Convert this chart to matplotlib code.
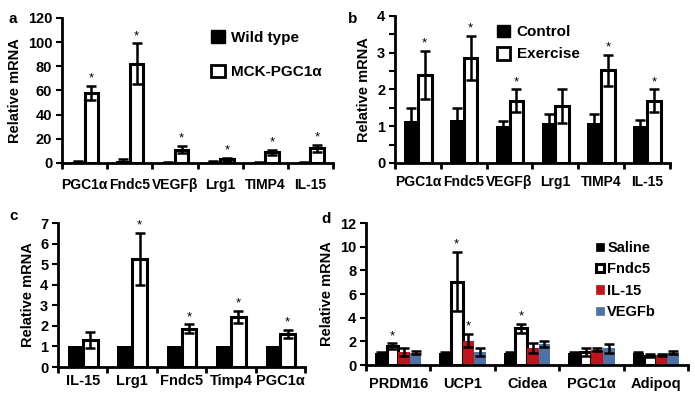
import numpy as np
import matplotlib
matplotlib.use('Agg')
from matplotlib import pyplot as plt
from matplotlib.patches import Patch

plt.rcParams['font.family'] = ['Liberation Sans', 'DejaVu Sans']
plt.rcParams['font.weight'] = 'bold'

RED = '#c0141c'
BLUE = '#4e72a6'

# panel a
a_genes = ['PGC1α', 'Fndc5', 'VEGFβ', 'Lrg1', 'TIMP4', 'IL-15']
a_wt = [1.0, 2.0, 0.8, 1.0, 0.8, 0.6]
a_wt_err = [0.4, 1.2, 0.4, 0.4, 0.4, 0.3]
a_mck = [58, 82, 11, 3, 9, 12]
a_mck_err = [6, 17, 3, 1.2, 2, 3]
a_sig = [True, True, True, True, True, True]

# panel b
b_genes = ['PGC1α', 'Fndc5', 'VEGFβ', 'Lrg1', 'TIMP4', 'IL-15']
b_ctrl = [1.15, 1.17, 1.02, 1.1, 1.1, 1.02]
b_ctrl_err = [0.36, 0.34, 0.13, 0.23, 0.23, 0.15]
b_ex = [2.4, 2.85, 1.7, 1.55, 2.52, 1.7]
b_ex_err = [0.65, 0.6, 0.3, 0.47, 0.42, 0.3]
b_sig = [True, True, True, False, True, True]

# panel c
c_genes = ['IL-15', 'Lrg1', 'Fndc5', 'Timp4', 'PGC1α']
c_ctrl = [1, 1, 1, 1, 1]
c_treat = [1.32, 5.25, 1.85, 2.43, 1.6]
c_treat_err = [0.4, 1.25, 0.22, 0.28, 0.2]
c_sig = [False, True, True, True, True]

# panel d
d_genes = ['PRDM16', 'UCP1', 'Cidea', 'PGC1α', 'Adipoq']
d_series = ['Saline', 'Fndc5', 'IL-15', 'VEGFb']
d_vals = [
    [1.0, 1.0, 1.0, 1.0, 1.0],
    [1.6, 7.05, 3.1, 1.1, 0.8],
    [1.1, 2.05, 1.45, 1.3, 0.85],
    [1.05, 1.1, 1.8, 1.4, 1.05],
]
d_errs = [
    [0.12, 0.1, 0.1, 0.12, 0.12],
    [0.22, 2.5, 0.4, 0.35, 0.1],
    [0.3, 0.55, 0.45, 0.15, 0.08],
    [0.15, 0.3, 0.25, 0.35, 0.15],
]
d_sig = [
    [False] * 5,
    [True, True, True, False, False],
    [False, True, False, False, False],
    [False] * 5,
]


def style_axis(ax, n, ymax, yticks, labels, label_pad, xsize, minor_y=None):
    for s in ['top', 'right']:
        ax.spines[s].set_visible(False)
    for s in ['left', 'bottom']:
        ax.spines[s].set_linewidth(2)
    ax.set_xlim(0, n)
    ax.set_ylim(0, ymax)
    ax.set_xticks(np.arange(n + 1))
    ax.set_xticklabels([])
    ax.set_xticks(np.arange(n) + 0.5, labels, minor=True)
    ax.tick_params(axis='x', which='major', length=4, width=2, direction='out')
    ax.tick_params(axis='x', which='minor', length=0, pad=label_pad,
                   labelsize=xsize)
    ax.set_yticks(yticks)
    ax.tick_params(axis='y', which='major', length=4, width=1.5,
                   labelsize=10.5, pad=3)
    if minor_y is not None:
        ax.set_yticks(minor_y, minor=True)
        ax.tick_params(axis='y', which='minor', length=4, width=1.5)
    for lab in ax.get_xticklabels(minor=True) + ax.get_yticklabels():
        lab.set_fontweight('bold')
    ax.set_ylabel('Relative mRNA', fontsize=10.5, fontweight='bold')


def stars(ax, x, tops, flags):
    for xi, t, f in zip(x, tops, flags):
        if f:
            ax.annotate('*', (xi, t), xytext=(0, 1), textcoords='offset points',
                        ha='center', va='bottom', fontsize=9.5,
                        fontweight='normal')


ekw = dict(ecolor='black', elinewidth=1.8, capsize=3.5, capthick=1.8)

fig = plt.figure(figsize=(6.95, 3.99), dpi=100)

# ---- a
ax = fig.add_axes([0.0892, 0.5915, 0.390, 0.3634])
x = np.arange(len(a_genes)) + 0.5
w = 0.3
ax.bar(x - w / 2, a_wt, w, color='black', yerr=a_wt_err, error_kw=ekw)
ax.bar(x + w / 2, a_mck, w, color='white', edgecolor='black', linewidth=2.2,
       yerr=a_mck_err, error_kw=ekw)
stars(ax, x + w / 2, np.array(a_mck) + np.array(a_mck_err), a_sig)
style_axis(ax, 6, 120, np.arange(0, 121, 20), a_genes, 11, 10)
ax.legend(handles=[Patch(facecolor='black', edgecolor='black'),
                   Patch(facecolor='white', edgecolor='black', linewidth=2)],
          labels=['Wild type', 'MCK-PGC1α'], loc='upper left',
          bbox_to_anchor=(0.5, 1.01), frameon=False, handlelength=0.9,
          handleheight=0.9, handletextpad=0.4, labelspacing=1.3,
          prop=dict(weight='bold', size=11))
fig.text(0.012, 0.97, 'a', fontsize=11, fontweight='bold', va='top')

# ---- b
ax = fig.add_axes([0.5683, 0.5915, 0.3957, 0.3684])
x = np.arange(len(b_genes)) + 0.5
ax.bar(x - w / 2, b_ctrl, w, color='black', yerr=b_ctrl_err, error_kw=ekw)
ax.bar(x + w / 2, b_ex, w, color='white', edgecolor='black', linewidth=2.2,
       yerr=b_ex_err, error_kw=ekw)
stars(ax, x + w / 2, np.array(b_ex) + np.array(b_ex_err), b_sig)
style_axis(ax, 6, 4, np.arange(0, 5), b_genes, 8.5, 10,
           minor_y=np.arange(0.5, 4, 1))
ax.legend(handles=[Patch(facecolor='black', edgecolor='black'),
                   Patch(facecolor='white', edgecolor='black', linewidth=2)],
          labels=['Control', 'Exercise'], loc='upper left',
          bbox_to_anchor=(0.32, 1.035), frameon=False, handlelength=0.9,
          handleheight=0.9, handletextpad=0.4, labelspacing=0.5,
          prop=dict(weight='bold', size=11))
fig.text(0.500, 0.97, 'b', fontsize=11, fontweight='bold', va='top')

# ---- c
ax = fig.add_axes([0.0835, 0.0802, 0.3554, 0.3609])
x = np.arange(len(c_genes)) + 0.5
ax.bar(x - w / 2, c_ctrl, w, color='black')
ax.bar(x + w / 2, c_treat, w, color='white', edgecolor='black', linewidth=2.2,
       yerr=c_treat_err, error_kw=ekw)
stars(ax, x + w / 2, np.array(c_treat) + np.array(c_treat_err), c_sig)
style_axis(ax, 5, 7, np.arange(0, 8), c_genes, 5, 10.5)
fig.text(0.014, 0.475, 'c', fontsize=11, fontweight='bold', va='top')

# ---- d
ax = fig.add_axes([0.5266, 0.0852, 0.4633, 0.3559])
x = np.arange(len(d_genes)) + 0.5
wd = 0.18
offs = [-1.5 * wd, -0.5 * wd, 0.5 * wd, 1.5 * wd]
fills = ['black', 'white', RED, BLUE]
edges = ['black', 'black', RED, BLUE]
lws = [0, 2.2, 0, 0]
for vals, errs, sig, off, fc, ec, lw in zip(d_vals, d_errs, d_sig, offs,
                                            fills, edges, lws):
    ax.bar(x + off, vals, wd, color=fc, edgecolor=ec, linewidth=lw,
           yerr=errs, error_kw=ekw)
    stars(ax, x + off, np.array(vals) + np.array(errs), sig)
style_axis(ax, 5, 12, np.arange(0, 13, 2), d_genes, 8.5, 10.5)
ax.legend(handles=[Patch(facecolor=fc, edgecolor=ec, linewidth=max(lw, 0.5))
                   for fc, ec, lw in zip(fills, edges, lws)],
          labels=d_series, loc='upper left', bbox_to_anchor=(0.675, 0.965),
          frameon=False, handlelength=0.5, handleheight=0.5,
          handletextpad=0.25, labelspacing=0.5,
          prop=dict(weight='bold', size=10.5))
fig.text(0.463, 0.468, 'd', fontsize=11, fontweight='bold', va='top')

fig.savefig('out.png', dpi=100)
